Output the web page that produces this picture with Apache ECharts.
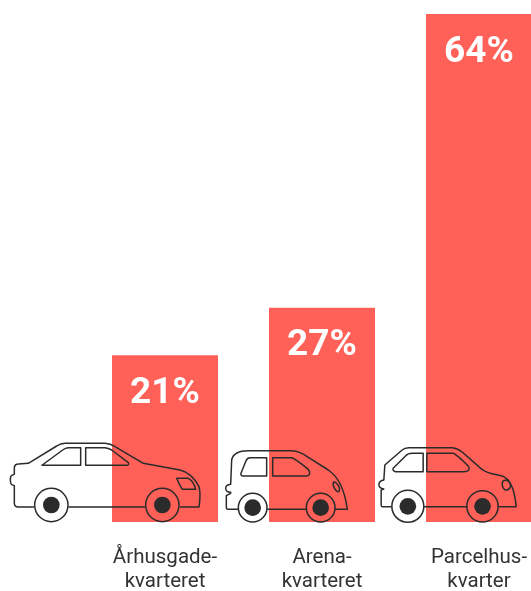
<!DOCTYPE html>
<html><head><meta charset="utf-8">
<style>html,body{margin:0;padding:0;background:#fff}#c{width:531px;height:591px}</style>
<script src="https://cdn.jsdelivr.net/npm/echarts@6/dist/echarts.min.js"></script>
</head><body><div id="c"></div>
<script>
const categories = ['Århusgade-\nkvarteret', 'Arena-\nkvarteret', 'Parcelhus-\nkvarter'];
const shares = [21, 27, 64];
const barColor = '#FF6057';
const inkColor = '#2B2B2B';
const textColor = '#333333';

// Car icons: decoration drawn in a local 3x space, anchored to each category's base.
const carIcons = [
  { anchor: [495, 276], wheels: [[154, 225, 50], [487, 225, 50]],
    d: 'M103 231L55 231Q43 231 43 220L43 167L35 164Q31 160 31 150Q31 138 35 136L43 133L43 115Q43 102 55 102L85 100L170 48Q182 40 195 40L315 40Q332 41 345 50L430 100L540 120Q575 128 597 170Q603 190 597 231L540 231M205 231L435 231' +
       'M127 105L188 60Q196 53 205 53L242 53L242 106L130 106Q125 106 127 105Z' +
       'M257 53L315 53Q325 54 335 60L385 98Q388 106 380 106L257 106Z' +
       'M530 145L565 145Q582 155 587 178L547 178Q538 165 530 145Z' },
  { anchor: [321, 276], wheels: [[113, 233, 43], [317, 233, 43]],
    d: 'M70 238L38 238Q34 238 34 232L34 197L47 190L47 187Q32 187 32 175Q32 165 47 163L50 90Q55 62 100 62L230 62Q255 63 280 82L340 120Q385 150 397 238L360 238M157 238L275 238' +
       'M78 130L93 92Q97 83 105 83L155 83L155 138L85 138Q76 138 78 130Z' +
       'M173 83L230 83Q240 85 280 118Q290 135 275 138L173 138Z' +
       'M356 156Q364 156 372 170Q376 184 370 185Q362 184 356 170Q353 160 356 156Z' },
  { anchor: [790.5, 276], wheels: [[577, 229, 48], [801, 229, 47]],
    d: 'M529 230L500 230Q497 230 497 225L497 180L505 177Q490 175 490 163Q492 152 505 150L508 105L560 60Q567 53 580 53L710 53Q725 54 740 66L790 110Q805 125 830 131L860 138Q895 150 902 230L848 230M625 230L755 230' +
       'M533 115L570 78Q577 70 590 70L623 70L623 125L540 125Q530 122 533 115Z' +
       'M634 70L712 70Q722 72 760 110Q765 125 745 125L634 125Z' +
       'M860 160Q862 150 872 150Q885 155 885 168Q882 181 870 180Q860 176 860 160Z' }
];
carIcons.forEach((c, i) => echarts.graphic.registerShape('carBody' + i, echarts.graphic.extendPath(c.d)));

const chart = echarts.init(document.getElementById('c'), null, { renderer: 'canvas' });
chart.setOption({
  animation: false,
  backgroundColor: '#fff',
  grid: { left: 86.5, right: -26.5, top: 14, bottom: 69, outerBoundsMode: 'none', containLabel: false },
  xAxis: {
    type: 'category', data: categories,
    axisLine: { show: false }, axisTick: { show: false }, splitLine: { show: false },
    axisLabel: { interval: 0, margin: 24, color: textColor, fontFamily: 'Roboto', fontSize: 20.5, lineHeight: 24 }
  },
  yAxis: { type: 'value', min: 0, max: 64, show: false, splitLine: { show: false } },
  series: [
    { type: 'bar', data: shares, barWidth: 106, itemStyle: { color: barColor },
      label: { show: true, position: 'insideTop', distance: 20, formatter: '{c}%',
               color: '#fff', fontFamily: 'Roboto', fontWeight: 'bold', fontSize: 37 } },
    { type: 'custom', data: shares.map((_, i) => [i, 0]), z: 5, clip: false,
      encode: { x: 0, y: 1 }, silent: true,
      renderItem(params, api) {
        const i = api.value(0), base = api.coord([i, 0]), car = carIcons[i];
        const children = [{ type: 'carBody' + i, shape: {}, style: { fill: null, stroke: inkColor, lineWidth: 4.5, lineJoin: 'round' } }];
        car.wheels.forEach((w, k) => {
          children.push({ type: 'circle', shape: { cx: w[0], cy: w[1], r: w[2] },
            style: { fill: k === 0 ? '#fff' : null, stroke: inkColor, lineWidth: 4.5 } });
          children.push({ type: 'circle', shape: { cx: w[0], cy: w[1], r: 25 }, style: { fill: inkColor } });
        });
        return { type: 'group', x: base[0] - car.anchor[0] / 3, y: base[1] - car.anchor[1] / 3,
                 scaleX: 1 / 3, scaleY: 1 / 3, children };
      } }
  ]
});
</script></body></html>
